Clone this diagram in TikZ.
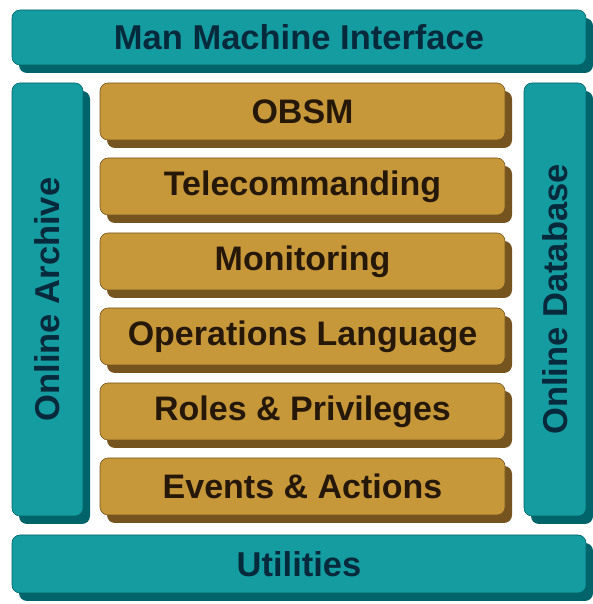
\documentclass[tikz,border=0pt]{standalone}
\usepackage{fontspec}
\setmainfont{Liberation Sans}
\definecolor{mmteal}{RGB}{20,156,160}
\definecolor{mmtealdark}{RGB}{0,100,106}
\definecolor{mmtealtext}{RGB}{6,42,60}
\definecolor{mmgold}{RGB}{198,152,58}
\definecolor{mmgolddark}{RGB}{118,84,32}
\definecolor{mmgoldtext}{RGB}{38,24,8}
\usetikzlibrary{shadows}

\begin{document}
\begin{tikzpicture}[x=1pt, y=1pt,
    tealbox/.style={rectangle, rounded corners=8pt, fill=mmteal, draw=mmtealdark, line width=0.6pt,
      text=mmtealtext, font=\bfseries\fontsize{34.5}{40}\selectfont,
      general shadow={fill=mmtealdark, shadow xshift=7pt, shadow yshift=-8pt}},
    goldbox/.style={rectangle, rounded corners=8pt, fill=mmgold, draw=mmgolddark, line width=0.6pt,
      minimum width=405pt, minimum height=57pt, inner sep=0pt,
      text=mmgoldtext, font=\bfseries\fontsize{34}{40}\selectfont,
      general shadow={fill=mmgolddark, shadow xshift=7pt, shadow yshift=-8pt}}
  ]
    \useasboundingbox[fill=white] (0,0) rectangle (592,604);

    % Outer frame boxes
    \node[tealbox, minimum width=574pt, minimum height=55pt, inner sep=0pt] (mmi) at (299,566.5)
      {Man Machine Interface};
    \node[tealbox, minimum width=433pt, minimum height=71pt, inner sep=0pt, rotate=90] (archive)
      at (47.5,304.5) {Online Archive};
    \node[tealbox, minimum width=433pt, minimum height=62pt, inner sep=0pt, rotate=90] (database)
      at (555,304.5) {Online Database};
    \node[tealbox, minimum width=574pt, minimum height=58pt, inner sep=0pt] (utilities) at (299,40)
      {Utilities};

    % Layer boxes
    \node[goldbox] (obsm)    at (302.5,492.5) {OBSM};
    \node[goldbox] (telecmd) at (302.5,417.5) {Telecommanding};
    \node[goldbox] (monitor) at (302.5,342.5) {Monitoring};
    \node[goldbox] (oplang)  at (302.5,267.5) {Operations Language};
    \node[goldbox] (roles)   at (302.5,192.5) {Roles \& Privileges};
    \node[goldbox] (events)  at (302.5,117.5) {Events \& Actions};
  \end{tikzpicture}
\end{document}
